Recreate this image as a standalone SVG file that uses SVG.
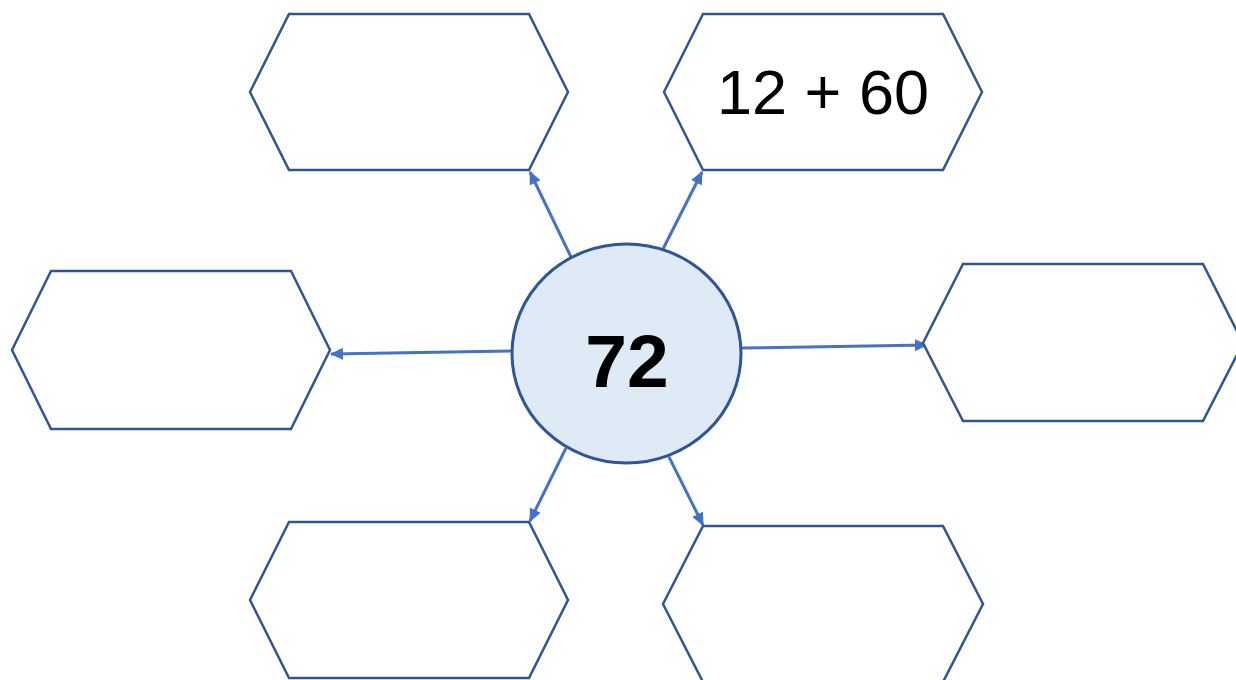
<svg xmlns="http://www.w3.org/2000/svg" width="1236" height="680" viewBox="0 0 1236 680">
<style>
.hex{fill:#FFFFFF;stroke:#2F5597;stroke-width:2.5;stroke-linejoin:miter}
.conn{stroke:#4472C4;stroke-width:3;fill:none}
.lbl{font-family:"Liberation Sans",Arial,sans-serif;fill:#000000;text-anchor:middle}
</style>
<defs>
<marker id="ah" markerWidth="13" markerHeight="12" refX="12" refY="6" orient="auto" markerUnits="userSpaceOnUse" viewBox="0 0 13 12">
<path d="M0,0 L13,6 L0,12 z" fill="#4472C4"/>
</marker>
</defs>
<rect width="1236" height="680" fill="#FFFFFF"/>
<g id="connectors">
<line class="conn" x1="571" y1="257" x2="530" y2="172" marker-end="url(#ah)"/>
<line class="conn" x1="663" y1="249" x2="702" y2="172" marker-end="url(#ah)"/>
<line class="conn" x1="512" y1="351" x2="331" y2="354" marker-end="url(#ah)"/>
<line class="conn" x1="741" y1="348" x2="927" y2="345" marker-end="url(#ah)"/>
<line class="conn" x1="566" y1="448" x2="530" y2="521" marker-end="url(#ah)"/>
<line class="conn" x1="669" y1="457" x2="703" y2="525" marker-end="url(#ah)"/>
</g>
<g id="hex-top-left">
<polygon class="hex" points="250,92 289,14 529,14 568,92 529,170 289,170"/>
</g>
<g id="hex-top-right">
<polygon class="hex" points="664,92 703,14 943,14 982,92 943,170 703,170"/>
<text class="lbl" x="823" y="114" font-size="63">12 + 60</text>
</g>
<g id="hex-left">
<polygon class="hex" points="12,350 51,271 291,271 330,350 291,429 51,429"/>
</g>
<g id="hex-right">
<polygon class="hex" points="923,343 963,264 1203,264 1243,343 1203,421 963,421"/>
</g>
<g id="hex-bottom-left">
<polygon class="hex" points="250,600 289,522 529,522 568,600 529,678 289,678"/>
</g>
<g id="hex-bottom-right">
<polygon class="hex" points="663,604 703,526 943,526 983,604 943,682 703,682"/>
</g>
<g id="center">
<ellipse cx="626.5" cy="353.5" rx="114.5" ry="109.5" fill="#DEEBF7" stroke="#2F5597" stroke-width="3"/>
<text class="lbl" x="627" y="387" font-size="75" font-weight="bold">72</text>
</g>
</svg>
